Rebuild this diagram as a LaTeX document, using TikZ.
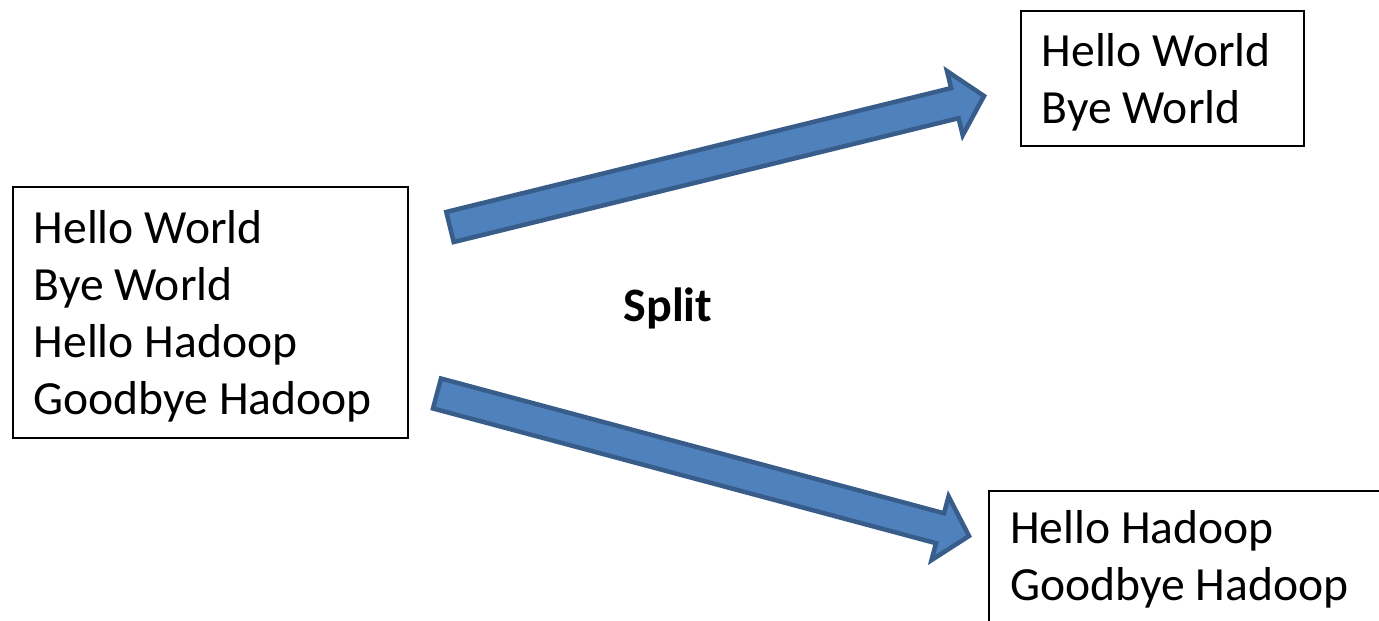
\documentclass[tikz,border=0pt]{standalone}
\usepackage{fontspec}
\setmainfont{Carlito}
\usetikzlibrary{calc}
\definecolor{arrfill}{HTML}{4F81BD}
\definecolor{arrline}{HTML}{385D8A}
\tikzset{
  box/.style={draw=black, line width=2pt, inner sep=0pt},
  line/.style={inner sep=0pt, anchor=base west, font=\fontsize{47.6}{57}\selectfont},
  label/.style={inner sep=0pt, anchor=base, font=\fontsize{48}{58}\selectfont\bfseries},
  blockarr/.style={fill=arrfill, draw=arrline, line width=4.5pt, line join=miter}
}
% block arrow from coordinate #1 (tail centre) to #2 (tip)
\newcommand\blockarrow[2]{%
  \coordinate (#1h) at ($(#2)!30pt!(#1)$);
  \draw[blockarr]
    ($(#1)!15.5pt!90:(#2)$) -- ($(#1h)!15.5pt!-90:(#1)$) -- ($(#1h)!33pt!-90:(#1)$)
    -- (#2) -- ($(#1h)!33pt!90:(#1)$) -- ($(#1h)!15.5pt!90:(#1)$)
    -- ($(#1)!15.5pt!-90:(#2)$) -- cycle;
}
\begin{document}
\begin{tikzpicture}[x=1pt, y=-1pt]
\useasboundingbox (0,0) rectangle (1379,621);
\clip (0,0) rectangle (1379,621);

% input split
\draw[box] (13,187) rectangle (408,438);
\node[line] (in1) at (33.5,243.5) {Hello World};
\node[line] (in2) at (33.5,300.5) {Bye World};
\node[line] (in3) at (33.5,357.5) {Hello Hadoop};
\node[line] (in4) at (33.5,414.5) {Goodbye Hadoop};

% first output
\draw[box] (1020.5,11) rectangle (1304,146);
\node[line] (a1) at (1041.5,66.5) {Hello World};
\node[line] (a2) at (1041.5,123.5) {Bye World};

% second output
\draw[box] (989,491) rectangle (1395,640);
\node[line] (b1) at (1010,543.5) {Hello Hadoop};
\node[line] (b2) at (1010,600.5) {Goodbye Hadoop};

% label
\node[label] (split) at (668,321) {Split};

% arrows
\coordinate (up) at (450,227);
\coordinate (upt) at (984,96);
\blockarrow{up}{upt}
\coordinate (dn) at (437,393.5);
\coordinate (dnt) at (969,536);
\blockarrow{dn}{dnt}
\end{tikzpicture}
\end{document}
